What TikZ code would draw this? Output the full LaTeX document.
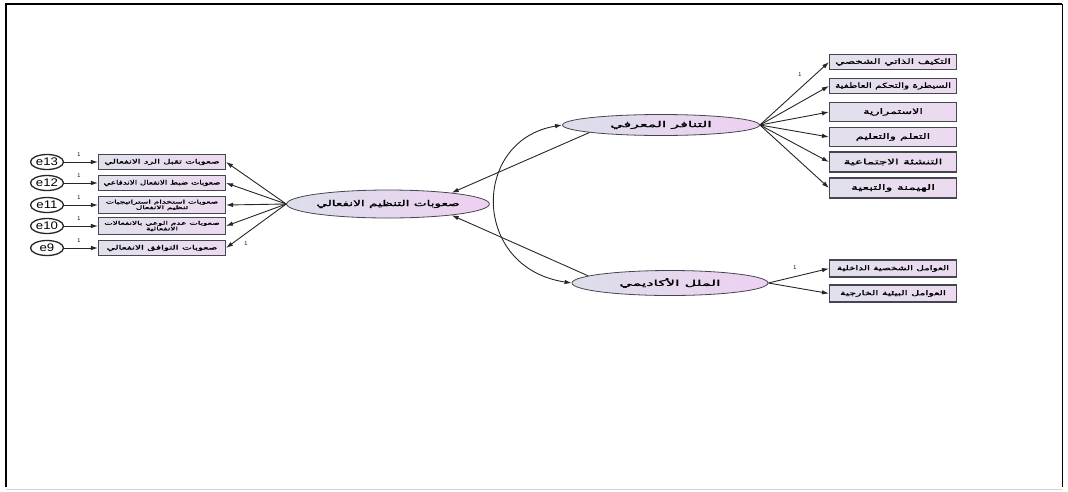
\documentclass[tikz,border=0pt]{standalone}
\usepackage{fontspec}
\usepackage{graphicx}
\usetikzlibrary{arrows.meta,shapes.geometric}
\TeXXeTstate=1
\newfontfamily\arabicfont[Script=Arabic,FakeBold=1.2]{DejaVu Sans}
\newfontfamily\arabicwide[Script=Arabic,FakeBold=1.5]{DejaVu Sans}
\newfontfamily\labfont{Liberation Sans}
\newcommand{\sxt}[2]{\scalebox{#1}[1]{#2}}
\definecolor{boxleft}{RGB}{226,224,236}
\definecolor{boxright}{RGB}{236,218,240}
\definecolor{ellleft}{RGB}{220,222,234}
\definecolor{ellright}{RGB}{238,208,242}
\definecolor{edge}{RGB}{70,70,80}
\tikzset{
  obsbox/.style={rectangle, draw=edge, line width=1.1pt, left color=boxleft, right color=boxright,
    minimum width=127pt, inner sep=0pt, align=center,
    font=\arabicfont\fontsize{6}{6.5}\selectfont},
  latent/.style={ellipse, draw=edge, line width=0.8pt, left color=ellleft, right color=ellright,
    inner sep=0pt, font=\arabicwide\fontsize{8}{9}\selectfont},
  errnode/.style={ellipse, draw=black!85, line width=1.3pt, fill=white, minimum width=33pt, minimum height=15pt,
    inner sep=0pt, font=\labfont\fontsize{11}{11}\selectfont},
  pathar/.style={-{Latex[length=7pt,width=4.5pt]}, line width=0.9pt, draw=black!85},
  covar/.style={{Latex[length=7pt,width=4.5pt]}-{Latex[length=7pt,width=4.5pt]}, line width=0.9pt, draw=black!85},
  onelab/.style={font=\labfont\fontsize{5.5}{5.5}\selectfont, inner sep=0pt}
}
\begin{document}
\begin{tikzpicture}[x=1pt,y=-1pt]
\useasboundingbox (0,0) rectangle (1068,491);
% frame
\draw[line width=1.5pt] (6,487) -- (6,4) -- (1062,4);
\draw[line width=0.6pt] (1062,4) -- (1062,487);
\draw[gray!35, line width=0.8pt] (6,489) -- (1062,489);

% latent variables
\node[latent, minimum width=190pt, minimum height=28pt] (C) at (388,204) {\sxt{1.7}{\beginR صعوبات التنظيم الانفعالي\endR}};
\node[latent, minimum width=197pt, minimum height=21pt] (T) at (661,125) {\sxt{2.0}{\beginR التنافر المعرفي\endR}};
\node[latent, minimum width=196pt, minimum height=25pt] (B) at (670,283) {\sxt{2.0}{\beginR الملل الأكاديمي\endR}};

% left observed
\node[obsbox, minimum height=15pt] (L1) at (162,162) {\sxt{1.7}{\beginR صعوبات تقبل الرد الانفعالي\endR}};
\node[obsbox, minimum height=15pt] (L2) at (162,183) {\sxt{1.45}{\beginR صعوبات ضبط الانفعال الاندفاعي\endR}};
\node[obsbox, minimum height=17pt, font=\arabicfont\fontsize{5}{5.6}\selectfont] (L3) at (162,205) {\sxt{1.8}{\beginR صعوبات استخدام استراتيجيات\endR}\\\sxt{1.8}{\beginR تنظيم الانفعال\endR}};
\node[obsbox, minimum height=17pt, font=\arabicfont\fontsize{5}{5.6}\selectfont] (L4) at (162,226) {\sxt{1.8}{\beginR صعوبات عدم الوعي بالانفعالات\endR}\\\sxt{1.8}{\beginR الانفعالية\endR}};
\node[obsbox, minimum height=15pt] (L5) at (162,248) {\sxt{1.75}{\beginR صعوبات التوافق الانفعالي\endR}};

% errors
\node[errnode] (e13) at (47,162) {\scalebox{1.2}[1]{e13}};
\node[errnode] (e12) at (47,183) {\scalebox{1.2}[1]{e12}};
\node[errnode] (e11) at (47,205) {\scalebox{1.2}[1]{e11}};
\node[errnode] (e10) at (47,226) {\scalebox{1.2}[1]{e10}};
\node[errnode] (e9) at (47,248) {\scalebox{1.2}[1]{e9}};

\foreach \e/\l in {e13/L1,e12/L2,e11/L3,e10/L4,e9/L5}{
  \draw[pathar] (\e) -- (\l);
}
\node[onelab] (o13) at (79,155) {1};
\node[onelab] (o12) at (79,176) {1};
\node[onelab] (o11) at (79,198) {1};
\node[onelab] (o10) at (79,219) {1};
\node[onelab] (o9) at (79,241) {1};

\foreach \l in {L1,L2,L3,L4,L5}{
  \draw[pathar] (C.west) -- (\l.east);
}
\node[onelab] (oc) at (246,244) {1};

% right observed (top)
\node[obsbox, minimum height=15pt, font=\arabicfont\fontsize{7}{7.5}\selectfont] (R1) at (893,62) {\sxt{1.7}{\beginR التكيف الذاتي الشخصي\endR}};
\node[obsbox, minimum height=15pt, font=\arabicfont\fontsize{7}{7.5}\selectfont] (R2) at (893,86) {\sxt{1.5}{\beginR السيطرة والتحكم العاطفية\endR}};
\node[obsbox, minimum height=19pt, font=\arabicfont\fontsize{7.5}{8}\selectfont] (R3) at (893,112) {\sxt{1.7}{\beginR الاستمرارية\endR}};
\node[obsbox, minimum height=19pt, font=\arabicfont\fontsize{7.5}{8}\selectfont] (R4) at (893,137) {\sxt{1.7}{\beginR التعلم والتعليم\endR}};
\node[obsbox, minimum height=20pt, font=\arabicfont\fontsize{7.5}{8}\selectfont] (R5) at (893,162) {\sxt{1.8}{\beginR التنشئة الاجتماعية\endR}};
\node[obsbox, minimum height=20pt, font=\arabicfont\fontsize{7.5}{8}\selectfont] (R6) at (893,188) {\sxt{1.85}{\beginR الهيمنة والتبعية\endR}};
\foreach \r in {R1,R2,R3,R4,R5,R6}{
  \draw[pathar] (T.east) -- (\r.west);
}
\node[onelab] (ot) at (800,75) {1};

% right observed (bottom)
\node[obsbox, minimum height=17pt, font=\arabicfont\fontsize{6.5}{7}\selectfont] (S1) at (893,268.5) {\sxt{1.6}{\beginR العوامل الشخصية الداخلية\endR}};
\node[obsbox, minimum height=17pt, font=\arabicfont\fontsize{6.5}{7}\selectfont] (S2) at (893,293.5) {\sxt{1.7}{\beginR العوامل البيئية الخارجية\endR}};
\foreach \s in {S1,S2}{
  \draw[pathar] (B.east) -- (\s.west);
}
\node[onelab] (ob) at (795,268) {1};

% structural paths
\draw[pathar] (T.186) -- (C.10);
\draw[pathar] (B.175) -- (C.-10);

% covariance
\draw[covar] (T.west) .. controls (471,140) and (471,268) .. (B.west);
\end{tikzpicture}
\end{document}
